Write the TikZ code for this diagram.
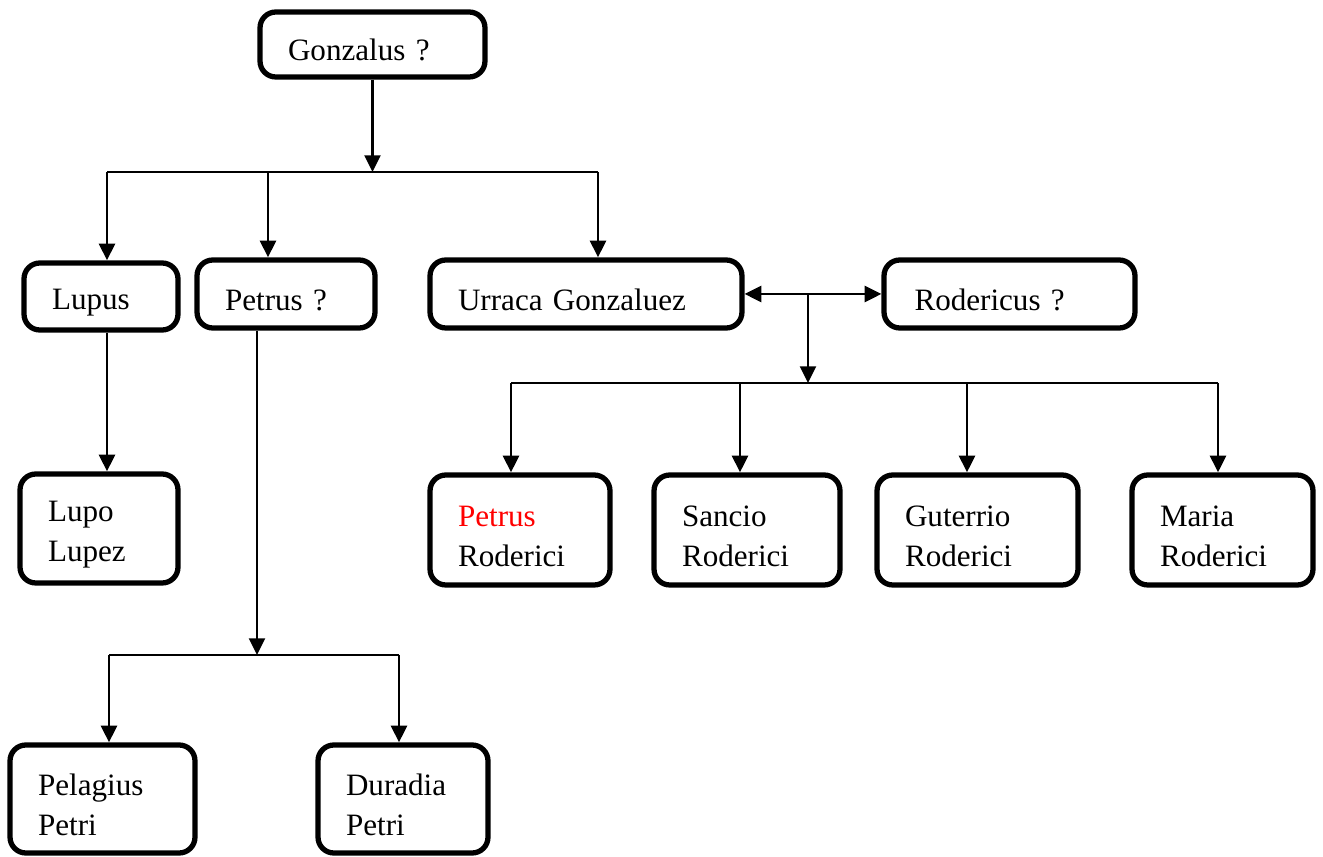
\documentclass[tikz,border=0pt]{standalone}
\usepackage{fontspec}
\setmainfont{Liberation Serif}
\usepackage{xcolor}
\usetikzlibrary{positioning, arrows.meta}

\begin{document}
\begin{tikzpicture}[x=0.02cm, y=-0.02cm, >={Triangle[length=9.5pt, width=9pt]},
    person/.style={draw, line width=3pt, rounded corners=9pt, align=left, inner xsep=0.56cm, inner ysep=0pt, font=\fontsize{17.7}{22.7}\selectfont, execute at begin node={\rule{0pt}{19pt}}},
    link/.style={line width=1.6pt}]
    \useasboundingbox (0,0) rectangle (1323,857);

    % first generation
    \node[person, text width=3.38cm, minimum height=1.3cm] (gon) at (372.5,44.5) {Gonzalus ?};

    % children of Gonzalus
    \node[person, text width=1.96cm, minimum height=1.34cm] (lupus) at (101,296.5) {Lupus};
    \node[person, text width=2.44cm, minimum height=1.36cm] (petrus) at (286,294) {Petrus ?};
    \node[person, text width=5.12cm, minimum height=1.36cm] (urraca) at (586,294) {Urraca Gonzaluez};
    \node[person, text width=3.8cm, minimum height=1.36cm, inner xsep=0.61cm] (roder) at (1009.5,294) {Rodericus ?};

    % grandchildren
    \node[person, text width=2.04cm, minimum height=2.18cm] (lupo) at (99,528.5) {Lupo\\Lupez};
    \node[person, text width=2.48cm, minimum height=2.2cm] (petrusr) at (520,530) {\textcolor{red}{Petrus}\\Roderici};
    \node[person, text width=2.6cm, minimum height=2.2cm] (sancio) at (747,530) {Sancio\\Roderici};
    \node[person, text width=2.9cm, minimum height=2.2cm] (guter) at (977.5,530) {Guterrio\\Roderici};
    \node[person, text width=2.5cm, minimum height=2.2cm] (maria) at (1222.5,530) {Maria\\Roderici};
    \node[person, text width=2.58cm, minimum height=2.16cm] (pelag) at (102.5,799) {Pelagius\\Petri};
    \node[person, text width=2.28cm, minimum height=2.16cm] (durad) at (403,799) {Duradia\\Petri};

    % Gonzalus -> children
    \coordinate (j1) at (372.5,172);
    \coordinate (b1) at (107,172);
    \coordinate (b2) at (268,172);
    \coordinate (b3) at (598,172);
    \draw[link, ->] (gon) -- (j1);
    \draw[link] (b1) -- (b3);
    \draw[link, ->] (b1) -- (b1 |- lupus.north);
    \draw[link, ->] (b2) -- (b2 |- petrus.north);
    \draw[link, ->] (b3) -- (b3 |- urraca.north);

    % Lupus -> Lupo
    \draw[link, ->] (b1 |- lupus.south) -- (b1 |- lupo.north);

    % Petrus -> children
    \coordinate (j2) at (257,655);
    \coordinate (c1) at (109,655);
    \coordinate (c2) at (399,655);
    \draw[link, ->] (j2 |- petrus.south) -- (j2);
    \draw[link] (c1) -- (c2);
    \draw[link, ->] (c1) -- (c1 |- pelag.north);
    \draw[link, ->] (c2) -- (c2 |- durad.north);

    % Urraca <-> Rodericus and their children
    \coordinate (m) at (808,294);
    \coordinate (j3) at (808,383);
    \coordinate (d1) at (511,383);
    \coordinate (d2) at (740,383);
    \coordinate (d3) at (967,383);
    \coordinate (d4) at (1218,383);
    \draw[link, <->] (urraca) -- (roder);
    \draw[link, ->] (m) -- (j3);
    \draw[link] (d1) -- (d4);
    \foreach \d/\k in {d1/petrusr, d2/sancio, d3/guter, d4/maria}
        \draw[link, ->] (\d) -- (\d |- \k.north);
\end{tikzpicture}
\end{document}
